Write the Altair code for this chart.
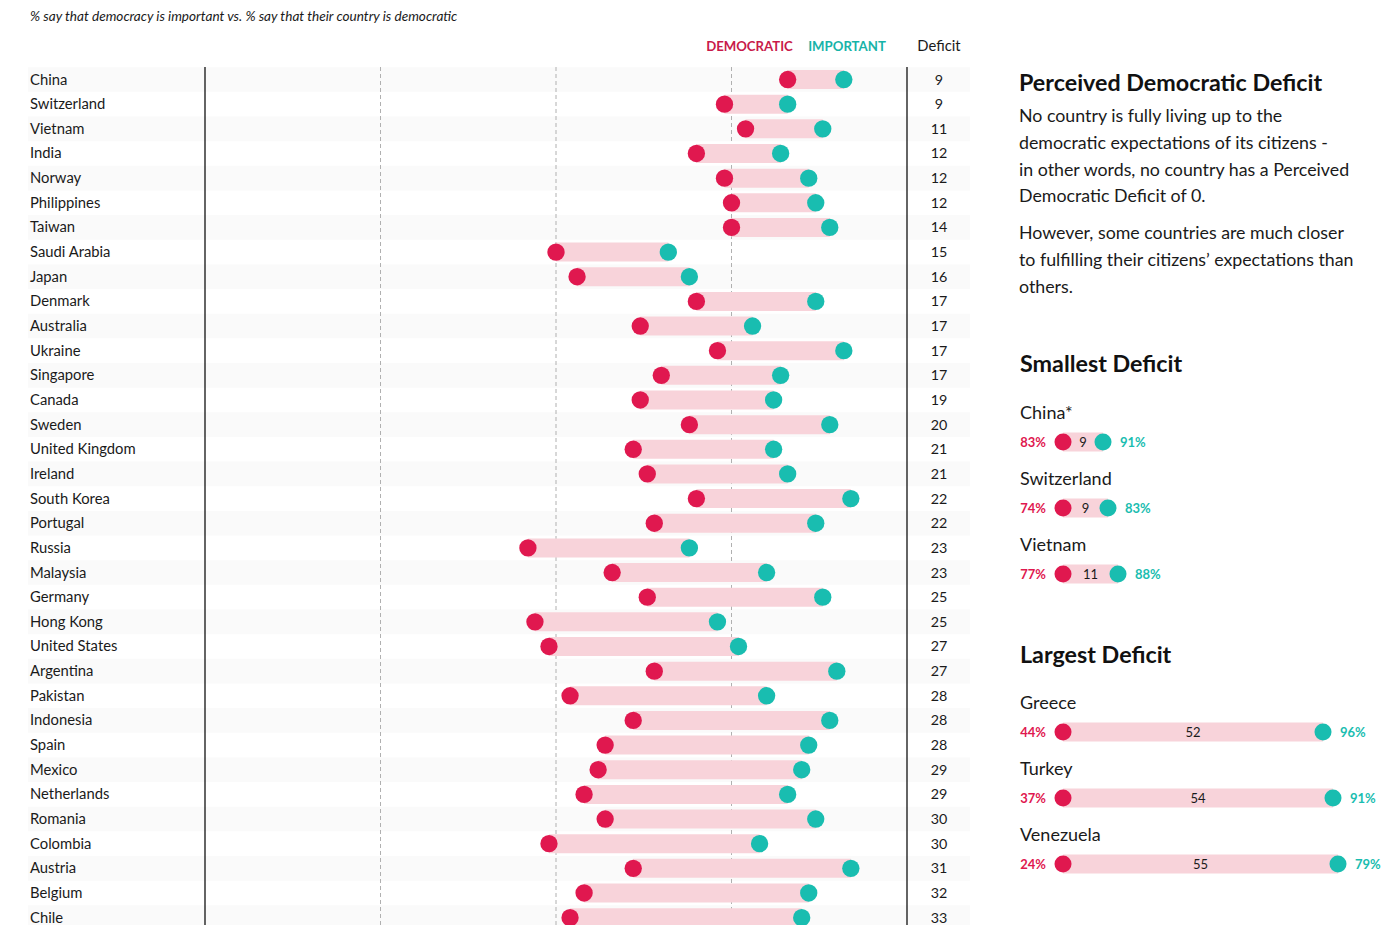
import altair as alt
import pandas as pd

# ---------------- data ----------------
countries = ["China", "Switzerland", "Vietnam", "India", "Norway", "Philippines", "Taiwan",
             "Saudi Arabia", "Japan", "Denmark", "Australia", "Ukraine", "Singapore", "Canada",
             "Sweden", "United Kingdom", "Ireland", "South Korea", "Portugal", "Russia",
             "Malaysia", "Germany", "Hong Kong", "United States", "Argentina", "Pakistan",
             "Indonesia", "Spain", "Mexico", "Netherlands", "Romania", "Colombia", "Austria",
             "Belgium", "Chile"]
democratic = [83, 74, 77, 70, 74, 75, 75, 50, 53, 70, 62, 73, 65, 62, 69, 61, 63, 70, 64, 46,
              58, 63, 47, 49, 64, 52, 61, 57, 56, 54, 57, 49, 61, 54, 52]
important = [91, 83, 88, 82, 86, 87, 89, 66, 69, 87, 78, 91, 82, 81, 89, 81, 83, 92, 87, 69,
             80, 88, 73, 76, 90, 80, 89, 86, 85, 83, 87, 79, 92, 86, 85]
deficit = [9, 9, 11, 12, 12, 12, 14, 15, 16, 17, 17, 17, 17, 19, 20, 21, 21, 22, 22, 23,
           23, 25, 25, 27, 27, 28, 28, 28, 29, 29, 30, 30, 31, 32, 33]

solid_ticks = [0, 100]
dashed_ticks = [25, 50, 75]

small_countries = ["China*", "Switzerland", "Vietnam"]
small_dem = [83, 74, 77]
small_imp = [91, 83, 88]
small_def = [9, 9, 11]

large_countries = ["Greece", "Turkey", "Venezuela"]
large_dem = [44, 37, 24]
large_imp = [96, 91, 79]
large_def = [52, 54, 55]

title_text = "% say that democracy is important vs. % say that their country is democratic"
panel_title = "Perceived Democratic Deficit"
para1 = ["No country is fully living up to the",
         "democratic expectations of its citizens -",
         "in other words, no country has a Perceived",
         "Democratic Deficit of 0."]
para2 = ["However, some countries are much closer",
         "to fulfilling their citizens\u2019 expectations than",
         "others."]

# ---------------- style ----------------
FONT = "Lato"
RED = "#e0184f"
TEAL = "#19bdb0"
PINK = "#f8d3da"
STRIPE = "#fafafa"
INK = "#1a1a1a"

df = pd.DataFrame({"country": countries, "democratic": democratic,
                   "important": important, "deficit": deficit})
df["idx"] = range(len(df))

xs = alt.Scale(domain=[0, 100], range=[197, 899], nice=False, zero=False)
ys = alt.Scale(type="band", domain=countries, range=[59.2, 59.2 + 35 * 24.65],
               paddingInner=0, paddingOuter=0)
Y = alt.Y("country:N", scale=ys, axis=None, sort=countries)

base = alt.Chart(df)

stripes = base.transform_filter("datum.idx % 2 == 0").mark_rect(
    color=STRIPE, clip=True).encode(x=alt.value(20), x2=alt.value(962), y=Y)

dashed = alt.Chart(pd.DataFrame({"tick": dashed_ticks})).mark_rule(
    color="#b0b0b0", strokeDash=[4, 3], strokeWidth=1, clip=True).encode(
    x=alt.X("tick:Q", scale=xs, axis=None), y=alt.value(59), y2=alt.value(917))

solid = alt.Chart(pd.DataFrame({"tick": solid_ticks})).mark_rule(
    color="#111111", strokeWidth=1.3, clip=True).encode(
    x=alt.X("tick:Q", scale=xs, axis=None), y=alt.value(59), y2=alt.value(917))

bars = base.mark_bar(size=19, color=PINK, clip=True).encode(
    x=alt.X("democratic:Q", scale=xs, axis=None), x2="important:Q", y=Y)

red_dots = base.mark_circle(size=300, color=RED, opacity=1, clip=True).encode(
    x=alt.X("democratic:Q", scale=xs, axis=None), y=Y)
teal_dots = base.mark_circle(size=300, color=TEAL, opacity=1, clip=True).encode(
    x=alt.X("important:Q", scale=xs, axis=None), y=Y)

labels = base.mark_text(align="left", baseline="middle", fontSize=14.8, font=FONT,
                        color=INK, clip=True, dy=1).encode(
    x=alt.value(22), y=Y, text="country:N")
defs = base.mark_text(align="center", baseline="middle", fontSize=14.3, font=FONT,
                      color=INK, clip=True, dy=1).encode(
    x=alt.value(931), y=Y, text="deficit:Q")

main = alt.layer(stripes, dashed, solid, bars, red_dots, teal_dots, labels, defs)

# ---------------- mini dumbbells ----------------
mxs = alt.Scale(domain=[0, 60], range=[1055, 1355], nice=False, zero=False)


def mini(names, dem, imp, gap, yrange):
    d = pd.DataFrame({"country": names, "dem": dem, "imp": imp, "gap": gap})
    b = alt.Chart(d).transform_calculate(
        z="0", diff="datum.imp - datum.dem", mid="(datum.imp - datum.dem) / 2",
        dl="datum.dem + '%'", il="datum.imp + '%'")
    sy = alt.Scale(type="band", domain=names, range=yrange, paddingInner=0, paddingOuter=0)
    yy = alt.Y("country:N", scale=sy, axis=None, sort=names)

    def X(f):
        return alt.X(f, scale=mxs, axis=None)

    bar = b.mark_bar(size=19, color=PINK).encode(x=X("z:Q"), x2="diff:Q", y=yy)
    rd = b.mark_circle(size=290, color=RED, opacity=1).encode(x=X("z:Q"), y=yy)
    td = b.mark_circle(size=290, color=TEAL, opacity=1).encode(x=X("diff:Q"), y=yy)
    gl = b.mark_text(fontSize=13, font=FONT, color=INK, baseline="middle", dy=1).encode(
        x=X("mid:Q"), y=yy, text="gap:Q")
    dl = b.mark_text(fontSize=13, font=FONT, fontWeight="bold", color=RED, align="right",
                     baseline="middle", dx=-17, dy=1).encode(x=X("z:Q"), y=yy, text="dl:N")
    il = b.mark_text(fontSize=13, font=FONT, fontWeight="bold", color=TEAL, align="left",
                     baseline="middle", dx=17, dy=1).encode(x=X("diff:Q"), y=yy, text="il:N")
    nm = b.mark_text(fontSize=18, font=FONT, color=INK, align="left", baseline="middle",
                     dy=-28).encode(x=alt.value(1012), y=yy, text="country:N")
    return alt.layer(bar, rd, td, gl, dl, il, nm)


small = mini(small_countries, small_dem, small_imp, small_def, [401, 599])
large = mini(large_countries, large_dem, large_imp, large_def, [691, 889])

# ---------------- annotations ----------------
dummy = pd.DataFrame({"k": [0]})


def note(text, x, y, size, weight="normal", color=INK, align="left", style="normal"):
    return alt.Chart(dummy).mark_text(
        text=text, align=align, baseline="middle", fontSize=size, fontWeight=weight,
        color=color, font=FONT, fontStyle=style).encode(x=alt.value(x), y=alt.value(y))


notes = [
    note(title_text, 22, 8.5, 13.6, style="italic"),
    note("DEMOCRATIC", 741.5, 38.5, 13.2, weight="bold", color="#c81a4a", align="center"),
    note("IMPORTANT", 839, 38.5, 13.2, weight="bold", color="#17b3a8", align="center"),
    note("Deficit", 931, 38.5, 14.8, align="center"),
    note(panel_title, 1011, 75.5, 23.3, weight="bold", color="#111111"),
    note("Smallest Deficit", 1012, 356.5, 23.3, weight="bold", color="#111111"),
    note("Largest Deficit", 1012, 647.5, 23.3, weight="bold", color="#111111"),
]
for i, line in enumerate(para1):
    notes.append(note(line, 1011, 109 + i * 26.8, 17.8))
for i, line in enumerate(para2):
    notes.append(note(line, 1011, 226 + i * 27, 17.8))

chart = alt.layer(main, small, large, *notes).resolve_scale(
    x="independent", y="independent").properties(
    width=1384, height=917, padding=0,
    background="white").configure_view(stroke=None)

chart.save("out.html", embed_options={"renderer": "svg", "actions": False})
